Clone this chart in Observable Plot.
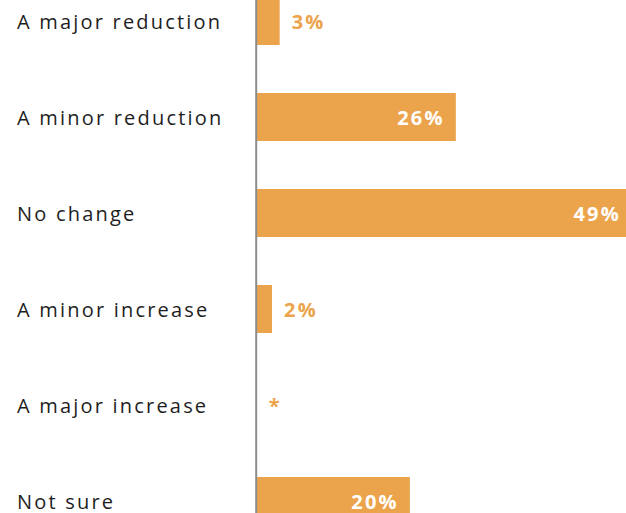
<!DOCTYPE html>
<html>
<head>
<meta charset="utf-8">
<script src="https://cdn.jsdelivr.net/npm/d3@7"></script>
<script src="https://cdn.jsdelivr.net/npm/@observablehq/plot@0.6"></script>
<style>
  html, body { margin: 0; padding: 0; background: #fff; overflow: hidden; }
  #chart { width: 626px; height: 513px; overflow: hidden; }
  #chart svg text { letter-spacing: 2.2px; }
  #chart svg text[font-weight="bold"] { letter-spacing: 2.4px; }
</style>
</head>
<body>
<div id="chart"></div>
<script>
const categories = ["A major reduction", "A minor reduction", "No change", "A minor increase", "A major increase", "Not sure"];
const values = [3, 26, 49, 2, 0, 20];
const valueLabels = ["3%", "26%", "49%", "2%", "*", "20%"];

const data = categories.map((c, i) => ({category: c, value: values[i], label: valueLabels[i], inside: values[i] >= 10}));

const orange = "#ECA44C";
const font = "Open Sans";

const chart = Plot.plot({
  width: 626,
  height: 513,
  marginTop: 0, marginBottom: 0, marginLeft: 0, marginRight: 0,
  style: {fontFamily: font, background: "#fff", overflow: "hidden"},
  x: {domain: [0, 49], range: [256.7, 632], axis: null},
  y: {domain: categories, range: [-51.3, 572.7], padding: 0.5, axis: null},
  marks: [
    Plot.barX(data, {x: "value", y: "category", fill: orange, clip: true}),
    Plot.ruleX([0], {stroke: "#8c8c8c", strokeWidth: 2, dx: -1}),
    Plot.text(data, {y: "category", text: "category", frameAnchor: "left", textAnchor: "start", dx: 16.5, dy: 1, fontSize: 20, fill: "#1e1e1e", fontFamily: font}),
    Plot.text(data.filter(d => d.inside), {x: "value", y: "category", text: "label", textAnchor: "end", dx: -11.6, dy: 1, fill: "#fff", fontWeight: "bold", fontSize: 20, fontFamily: font}),
    Plot.text(data.filter(d => !d.inside), {x: "value", y: "category", text: "label", textAnchor: "start", dx: 11.5, dy: 1, fill: orange, fontWeight: "bold", fontSize: 20, fontFamily: font})
  ]
});
document.getElementById("chart").appendChild(chart);
</script>
</body>
</html>
